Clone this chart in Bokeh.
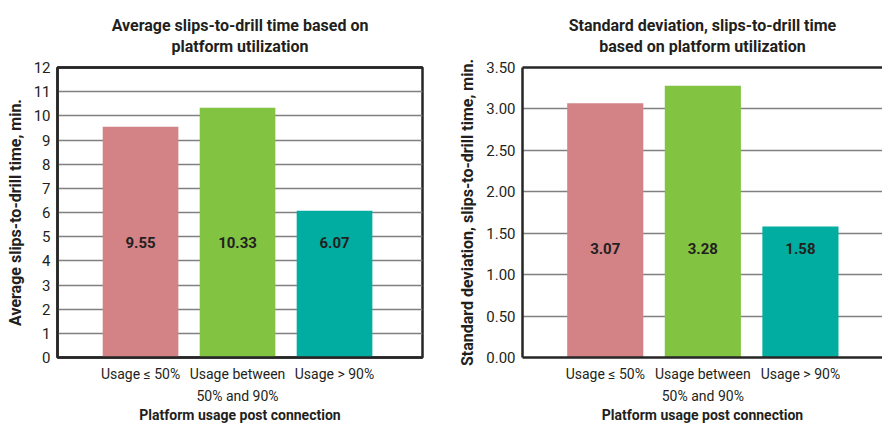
from bokeh.plotting import figure
from bokeh.layouts import row
from bokeh.models import ColumnDataSource, FixedTicker, LinearAxis, Range1d, LabelSet
from bokeh.embed import file_html
from bokeh.resources import INLINE
from bokeh.core.properties import value

# ---- data ----
categories = ["Usage \u2264 50%", "Usage between\n50% and 90%", "Usage > 90%"]
avg_time = [9.55, 10.33, 6.07]
std_time = [3.07, 3.28, 1.58]
avg_labels = ["9.55", "10.33", "6.07"]
std_labels = ["3.07", "3.28", "1.58"]
bar_colors = ["#D38286", "#82C341", "#00ADA0"]
avg_ticks = [0, 1, 2, 3, 4, 5, 6, 7, 8, 9, 10, 11, 12]
std_ticks = [0.0, 0.5, 1.0, 1.5, 2.0, 2.5, 3.0, 3.5]
std_tick_labels = ["0.00", "0.50", "1.00", "1.50", "2.00", "2.50", "3.00", "3.50"]

FONT = "Roboto"
DARK = "#231f20"
FRAME = "#262626"
GRID = "#808080"


def make_chart(title, ylabel, vals, labels, ticks, tick_labels, x_start, x_end,
               label_y, border_left, border_right, full_box):
    xs = [1, 2, 3]
    p = figure(width=441, height=426, output_backend="svg", toolbar_location=None,
               x_range=Range1d(x_start, x_end), y_range=Range1d(ticks[0], ticks[-1]),
               min_border_left=border_left, min_border_right=border_right,
               min_border_top=67, min_border_bottom=69, title=None,
               background_fill_color="white", border_fill_color="white")

    xa = p.below[0]
    ya = p.left[0]

    if full_box:
        p.outline_line_color = FRAME
        p.outline_line_width = 2.5
    else:
        p.outline_line_color = None

    # top border + two-line chart title carried by an "above" axis
    top_ax = LinearAxis(ticker=FixedTicker(ticks=[]), axis_line_color=FRAME,
                        axis_line_width=2.5, major_tick_line_color=None,
                        minor_tick_line_color=None, major_tick_out=0,
                        major_tick_in=0,
                        major_label_text_font_size="0px", major_label_standoff=0,
                        axis_label=title, axis_label_standoff=12,
                        axis_label_text_font=FONT, axis_label_text_font_size="16px",
                        axis_label_text_font_style="bold",
                        axis_label_text_color=DARK,
                        axis_label_text_line_height=1.1)
    p.add_layout(top_ax, "above")

    src = ColumnDataSource(dict(x=xs, top=vals, color=bar_colors, text=labels,
                                ly=[label_y] * 3))
    p.vbar(x="x", top="top", bottom=0, width=0.78, color="color", source=src,
           line_color=None)
    p.add_layout(LabelSet(x="x", y="ly", text="text", source=src,
                          text_align="center", text_baseline="middle",
                          text_font=value(FONT), text_font_size=value("15px"),
                          text_font_style="bold", text_color=DARK))

    # grid
    p.xgrid.visible = False
    p.ygrid.ticker = FixedTicker(ticks=ticks)
    p.ygrid.grid_line_color = GRID
    p.ygrid.grid_line_width = 1.5

    # y axis
    ya.ticker = FixedTicker(ticks=ticks)
    ya.major_label_overrides = {t: l for t, l in zip(ticks, tick_labels)}
    ya.axis_label = ylabel
    ya.axis_label_text_font = FONT
    ya.axis_label_text_font_size = "16px"
    ya.axis_label_text_font_style = "bold"
    ya.axis_label_text_color = DARK
    ya.axis_label_standoff = 6
    ya.major_label_text_font = FONT
    ya.major_label_text_font_size = "15px"
    ya.major_label_text_color = DARK
    ya.major_label_standoff = 7
    ya.major_tick_line_color = None
    ya.minor_tick_line_color = None
    ya.major_tick_out = 0
    ya.major_tick_in = 0

    # x axis
    xa.ticker = FixedTicker(ticks=xs)
    xa.major_label_overrides = {x: c for x, c in zip(xs, categories)}
    xa.axis_label = "Platform usage post connection"
    xa.axis_label_text_font = FONT
    xa.axis_label_text_font_size = "14px"
    xa.axis_label_text_font_style = "bold"
    xa.axis_label_text_color = DARK
    xa.axis_label_standoff = 0
    xa.major_label_text_font = FONT
    xa.major_label_text_font_size = "14px"
    xa.major_label_text_line_height = 1.43
    xa.major_label_text_color = DARK
    xa.major_label_standoff = 8
    xa.major_tick_line_color = None
    xa.minor_tick_line_color = None
    xa.major_tick_out = 0
    xa.major_tick_in = 0

    for ax in (xa, ya):
        ax.axis_line_color = FRAME
        ax.axis_line_width = 2.5

    return p


p1 = make_chart("Average slips-to-drill time based on\nplatform utilization",
                "Average slips-to-drill time, min.",
                avg_time, avg_labels, avg_ticks, [str(t) for t in avg_ticks],
                0.144, 3.907, 4.75, 57, 19, True)
p2 = make_chart("Standard deviation, slips-to-drill time\nbased on platform utilization",
                "Standard deviation, slips-to-drill time, min.",
                std_time, std_labels, std_ticks, std_tick_labels,
                0.152, 3.841, 1.31, 81, 0, False)

layout = row(p1, p2, spacing=0)
open("out.html", "w").write(file_html(layout, INLINE))
